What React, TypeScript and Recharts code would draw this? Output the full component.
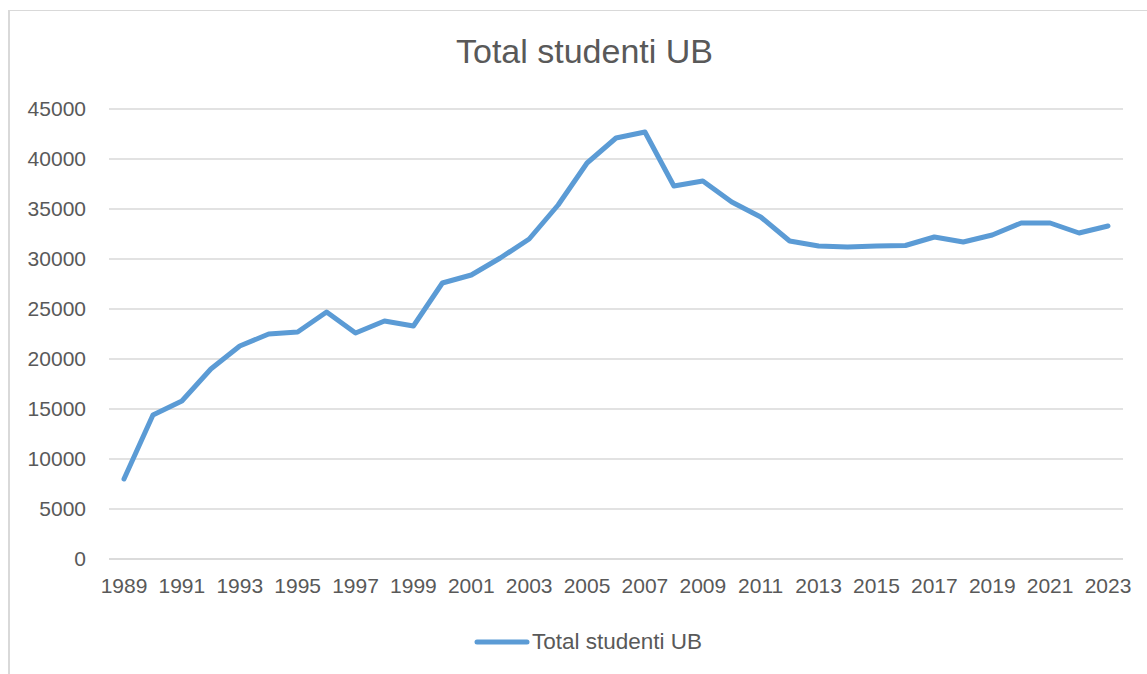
import { LineChart, Line, XAxis, YAxis, CartesianGrid } from "recharts";

const years = [
  "1989", "1990", "1991", "1992", "1993", "1994", "1995", "1996", "1997", "1998",
  "1999", "2000", "2001", "2002", "2003", "2004", "2005", "2006", "2007", "2008",
  "2009", "2010", "2011", "2012", "2013", "2014", "2015", "2016", "2017", "2018",
  "2019", "2020", "2021", "2022", "2023",
];

const students = [
  8000, 14400, 15800, 19000, 21300, 22500, 22700, 24700, 22600, 23800,
  23300, 27600, 28400, 30100, 32000, 35400, 39600, 42100, 42700, 37300,
  37800, 35700, 34200, 31800, 31300, 31200, 31300, 31350, 32200, 31700,
  32400, 33600, 33600, 32600, 33300,
];

const yTicks = [0, 5000, 10000, 15000, 20000, 25000, 30000, 35000, 40000, 45000];

const seriesName = "Total studenti UB";

const data = years.map((year, i) => ({ year, total: students[i] }));

const FONT = "'Liberation Sans', Arial, sans-serif";
const TEXT = "#595959";
const BLUE = "#5B9BD5";
const GRID = "#D9D9D9";

export default function App() {
  return (
    <div style={{ position: "absolute", left: 0, top: 0, width: 1147, height: 674, background: "#fff" }}>
      <div
        style={{
          position: "absolute",
          left: 8,
          top: 10,
          right: 0,
          bottom: 0,
          borderTop: `1.5px solid ${GRID}`,
          borderLeft: `2px solid ${GRID}`,
        }}
      />
      <div
        style={{
          position: "absolute",
          left: 0,
          width: 1169,
          top: 32,
          textAlign: "center",
          fontFamily: FONT,
          fontSize: 34,
          color: TEXT,
        }}
      >
        {seriesName}
      </div>
      <LineChart
        width={1147}
        height={674}
        data={data}
        margin={{ top: 109, right: 24, bottom: 85, left: 0 }}
        style={{ position: "absolute", left: 0, top: 0 }}
      >
        <CartesianGrid vertical={false} stroke={GRID} strokeWidth={1.5} />
        <XAxis
          dataKey="year"
          interval={1}
          padding={{ left: 15, right: 15 }}
          tickLine={false}
          tickSize={0}
          tickMargin={19}
          height={30}
          axisLine={{ stroke: GRID, strokeWidth: 1.5 }}
          tick={{ fill: TEXT, fontSize: 21, fontFamily: FONT }}
        />
        <YAxis
          width={109}
          domain={[0, 45000]}
          ticks={yTicks}
          tickLine={false}
          axisLine={false}
          tickSize={0}
          tickMargin={23}
          tick={{ fill: TEXT, fontSize: 21, fontFamily: FONT }}
        />
        <Line
          name={seriesName}
          dataKey="total"
          stroke={BLUE}
          strokeWidth={5}
          strokeLinecap="round"
          strokeLinejoin="round"
          dot={false}
          isAnimationActive={false}
        />
      </LineChart>
      <div style={{ position: "absolute", left: 474, top: 629, display: "flex", alignItems: "center" }}>
        <svg width={56} height={10}>
          <line x1={3} y1={5} x2={53} y2={5} stroke={BLUE} strokeWidth={5} strokeLinecap="round" />
        </svg>
        <span style={{ fontFamily: FONT, fontSize: 22.5, color: TEXT, marginLeft: 2 }}>{seriesName}</span>
      </div>
    </div>
  );
}
